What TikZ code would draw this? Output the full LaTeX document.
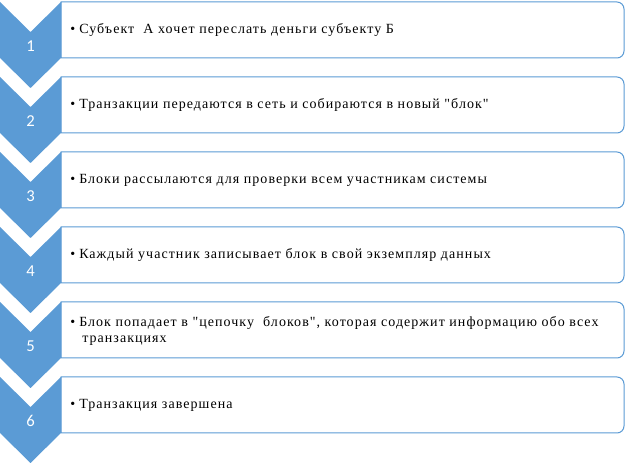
\documentclass[tikz,border=0pt]{standalone}
\usepackage{fontspec}
\setmainfont{Liberation Serif}
\newfontfamily\txtfont{Liberation Serif}[LetterSpace=7.5]
\newfontfamily\numfont{Carlito}
\definecolor{ofblue}{HTML}{5B9BD5}
\begin{document}
\begin{tikzpicture}[x=0.75pt,y=-0.75pt,
  chev/.style={fill=ofblue,draw=none},
  stepnum/.style={text=white,font=\numfont\fontsize{12.5pt}{14pt}\selectfont,inner sep=0pt},
  stepbox/.style={draw=ofblue,line width=0.75pt,fill=white},
  steptext/.style={anchor=base west,inner sep=0pt,align=left,font=\txtfont\fontsize{10.5pt}{12pt}\selectfont}]
\useasboundingbox (0,0) rectangle (626,466);
\newcommand{\bul}{\makebox[6.75pt][l]{•}}
\foreach \i/\txt in {
  1/{\bul Субъект\ \ А хочет переслать деньги субъекту Б},
  2/{\bul Транзакции передаются в сеть и собираются в новый "блок"},
  3/{\bul Блоки рассылаются для проверки всем участникам системы},
  4/{\bul Каждый участник записывает блок в свой экземпляр данных},
  6/{\bul Транзакция завершена}}{
  \pgfmathsetmacro{\T}{2+75*(\i-1)}
  \draw[stepbox] (300,\T) [rounded corners=5.25pt] -- (624,\T) -- (624,\T+56) -- (300,\T+56) [sharp corners] -- (61,\T+56) -- (61,\T) -- cycle;
  \path[chev] (0,\T) -- (30.5,\T+30) -- (61,\T) -- (61,\T+56) -- (30.5,\T+86) -- (0,\T+56) -- cycle;
  \node[stepnum] (n\i) at (30.5,\T+44) {\i};
  \node[steptext] (t\i) at (70,\T+32) {\txt};
}
\pgfmathsetmacro{\T}{302}
\draw[stepbox] (300,\T) [rounded corners=5.25pt] -- (624,\T) -- (624,\T+56) -- (300,\T+56) [sharp corners] -- (61,\T+56) -- (61,\T) -- cycle;
\path[chev] (0,\T) -- (30.5,\T+30) -- (61,\T) -- (61,\T+56) -- (30.5,\T+86) -- (0,\T+56) -- cycle;
\node[stepnum] (n5) at (30.5,\T+44) {5};
\node[steptext] (t5) at (70,\T+41) {\bul Блок попадает в "цепочку\ \ блоков", которая содержит информацию обо всех\\\hspace*{9pt}транзакциях};
\end{tikzpicture}
\end{document}
